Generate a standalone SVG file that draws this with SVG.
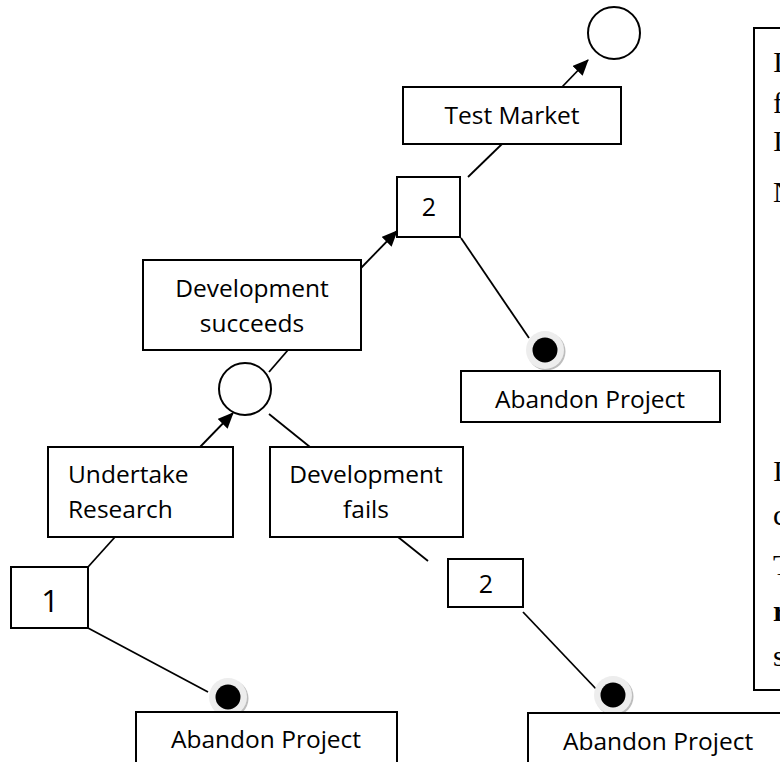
<svg xmlns="http://www.w3.org/2000/svg" width="780" height="762" viewBox="0 0 780 762">
<style>
.box{fill:#fff;stroke:#000;stroke-width:2}
.circ{fill:#fff;stroke:#000;stroke-width:2}
.t{font-family:"Open Sans","Liberation Sans",sans-serif;font-size:24.5px;fill:#000}
.tc{text-anchor:middle}
.ln{stroke:#000;stroke-width:1.8;fill:none}
.s{font-family:"Liberation Serif","Times New Roman",serif;font-size:30px;fill:#000}
.halo{fill:#ededed}
.shadow{fill:#bdbdbd}
</style>
<defs>
<marker id="ah" markerWidth="16" markerHeight="14" refX="15" refY="7" orient="auto" markerUnits="userSpaceOnUse" viewBox="0 0 16 14">
<path d="M0,0 L16,7 L0,14 z" fill="#000"/>
</marker>
<g id="dot">
<circle cx="1.5" cy="1.5" r="19" class="shadow"/>
<circle cx="0" cy="0" r="19" class="halo"/>
<circle cx="0" cy="0" r="12.5" fill="#000"/>
</g>
</defs>
<g id="connectors">
<line class="ln" x1="562" y1="87" x2="588" y2="60" marker-end="url(#ah)"/>
<line class="ln" x1="502" y1="144" x2="468" y2="177"/>
<line class="ln" x1="361" y1="268" x2="397" y2="231" marker-end="url(#ah)"/>
<line class="ln" x1="461" y1="238" x2="529" y2="338"/>
<line class="ln" x1="288" y1="350" x2="269" y2="372"/>
<line class="ln" x1="200" y1="447" x2="233" y2="413" marker-end="url(#ah)"/>
<line class="ln" x1="269" y1="414" x2="310" y2="447"/>
<line class="ln" x1="115" y1="537" x2="88" y2="567"/>
<line class="ln" x1="88" y1="628" x2="208" y2="692"/>
<line class="ln" x1="398" y1="537" x2="428" y2="561"/>
<line class="ln" x1="523" y1="612" x2="598" y2="691"/>
</g>
<g id="n-top-circle"><circle class="circ" cx="614" cy="33" r="26"/></g>
<g id="n-test-market">
<rect class="box" x="403" y="87" width="218" height="57"/>
<text class="t tc" x="512" y="124">Test Market</text>
</g>
<g id="n-decision-2a">
<rect class="box" x="397" y="177" width="63" height="60"/>
<text class="t tc" x="429" y="216" style="font-size:25px">2</text>
</g>
<g id="n-abandon-1">
<use href="#dot" x="545" y="350"/>
<rect class="box" x="461" y="371" width="259" height="51"/>
<text class="t tc" x="590" y="408">Abandon Project</text>
</g>
<g id="n-dev-succeeds">
<rect class="box" x="143" y="260" width="218" height="90"/>
<text class="t tc" x="252" y="297">Development</text>
<text class="t tc" x="252" y="332">succeeds</text>
</g>
<g id="n-mid-circle"><circle class="circ" cx="245" cy="389" r="26"/></g>
<g id="n-undertake">
<rect class="box" x="48" y="447" width="185" height="90"/>
<text class="t" x="68" y="483">Undertake</text>
<text class="t" x="68" y="518">Research</text>
</g>
<g id="n-dev-fails">
<rect class="box" x="270" y="447" width="193" height="90"/>
<text class="t tc" x="366" y="483">Development</text>
<text class="t tc" x="366" y="518">fails</text>
</g>
<g id="n-decision-1">
<rect class="box" x="11" y="567" width="77" height="61"/>
<text class="t tc" x="50" y="612" style="font-size:31px">1</text>
</g>
<g id="n-decision-2b">
<rect class="box" x="448" y="559" width="75" height="48"/>
<text class="t tc" x="486" y="593" style="font-size:25px">2</text>
</g>
<g id="n-abandon-2">
<use href="#dot" x="228" y="697"/>
<rect class="box" x="136" y="712" width="261" height="60"/>
<text class="t tc" x="266" y="748">Abandon Project</text>
</g>
<g id="n-abandon-3">
<use href="#dot" x="613" y="695"/>
<rect class="box" x="528" y="713" width="270" height="60"/>
<text class="t" x="563" y="750">Abandon Project</text>
</g>
<g id="n-note">
<rect class="box" x="754" y="28" width="60" height="662"/>
<text class="s" x="773" y="72">I</text>
<text class="s" x="773" y="113">f</text>
<text class="s" x="773" y="151">I</text>
<text class="s" x="773" y="202">N</text>
<text class="s" x="773" y="481">I</text>
<text class="s" x="773" y="525">c</text>
<text class="s" x="773" y="575">T</text>
<text class="s" x="773" y="621" style="font-weight:bold">r</text>
<text class="s" x="773" y="666">s</text>
</g>
</svg>
